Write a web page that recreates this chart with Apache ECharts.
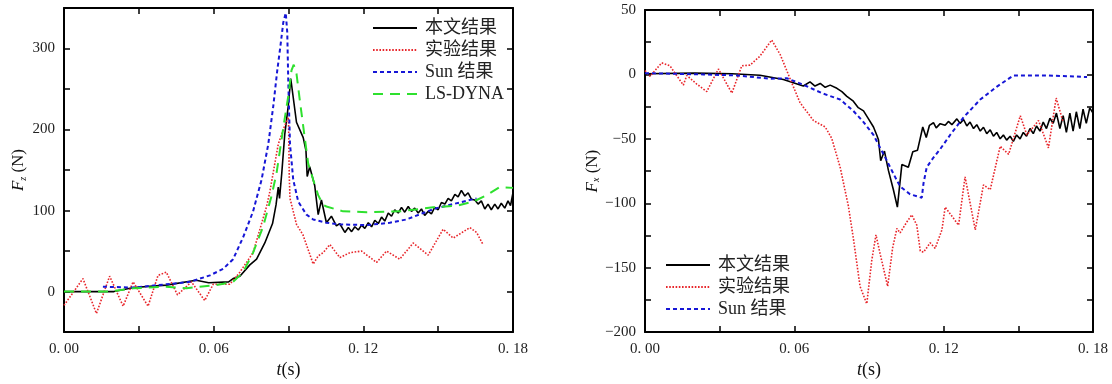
<!DOCTYPE html>
<html><head><meta charset="utf-8">
<script src="https://cdn.jsdelivr.net/npm/echarts@6/dist/echarts.min.js"></script>
<style>html,body{margin:0;padding:0;background:#fff}#c{width:1112px;height:384px}</style>
</head><body><div id="c"></div>
<script>
// ---- data: [t (s), force (N)] ----
const seriesNamesL = ['本文结果', '实验结果', 'Sun 结果', 'LS-DYNA'];
const seriesNamesR = ['本文结果', '实验结果', 'Sun 结果'];

const fzOurs = [[0,0],[0.01,0],[0.02,0],[0.028,5],[0.041,8],[0.053,14],[0.058,11],[0.066,12],[0.0678,16],[0.0705,19],[0.0745,33],[0.0772,40],[0.0805,60],[0.0836,84],[0.085,107],[0.0859,129],[0.0864,115],[0.0873,146],[0.0885,194],[0.0899,229],[0.0909,263],[0.0932,209],[0.0959,190],[0.097,174],[0.0975,142],[0.0985,154],[0.1005,131],[0.1019,95],[0.1032,113],[0.1052,85],[0.1072,93],[0.1092,81],[0.1105,84],[0.1126,73],[0.114,79],[0.1153,74],[0.1166,80],[0.118,76],[0.1193,82],[0.1206,78],[0.122,85],[0.1233,80],[0.1246,88],[0.126,84],[0.1273,92],[0.1286,87],[0.13,97],[0.1313,93],[0.1326,101],[0.134,97],[0.1353,104],[0.1366,98],[0.138,105],[0.1393,99],[0.1406,103],[0.142,97],[0.1433,102],[0.1446,94],[0.146,99],[0.1473,96],[0.1486,104],[0.15,101],[0.1513,110],[0.1527,108],[0.154,115],[0.1553,112],[0.1567,120],[0.158,117],[0.1593,125],[0.1607,118],[0.162,122],[0.1633,114],[0.1647,113],[0.166,108],[0.1673,112],[0.1687,102],[0.17,108],[0.1713,101],[0.1727,108],[0.174,102],[0.1753,109],[0.1767,103],[0.178,112],[0.179,106],[0.18,122]];
const fzExp = [[0,-17],[0.0076,16],[0.013,-27],[0.0183,19],[0.0237,-18],[0.0277,12],[0.0337,-18],[0.0377,20],[0.041,24],[0.0455,-4],[0.0511,12],[0.0564,-11],[0.0598,9],[0.0665,9],[0.0705,24],[0.0758,48],[0.0812,105],[0.0825,123],[0.0859,182],[0.0885,205],[0.09,215],[0.0903,143],[0.0906,115],[0.0932,83],[0.0958,70],[0.0999,34],[0.1019,44],[0.1039,48],[0.1066,58],[0.1106,42],[0.1146,48],[0.1193,50],[0.1253,36],[0.1293,50],[0.1346,40],[0.14,60],[0.146,45],[0.152,77],[0.156,66],[0.1627,79],[0.1654,73],[0.168,58]];
const fzSun = [[0.0156,6],[0.028,5],[0.041,9],[0.0505,12],[0.0585,20],[0.0638,28],[0.0678,40],[0.0718,67],[0.0758,99],[0.0792,138],[0.0819,182],[0.0839,229],[0.0855,273],[0.0868,304],[0.0879,332],[0.0889,344],[0.0895,320],[0.0899,261],[0.0906,182],[0.0919,138],[0.0939,111],[0.0972,95],[0.0999,89],[0.1052,85],[0.1106,83],[0.1213,82],[0.1306,85],[0.1373,89],[0.144,97],[0.1493,103],[0.156,108],[0.1614,112],[0.1654,115]];
const fzDyna = [[0,0],[0.0183,0],[0.0277,4],[0.041,6],[0.0491,4],[0.0544,6],[0.0611,8],[0.0678,12],[0.0718,24],[0.0758,48],[0.0798,80],[0.0832,118],[0.0852,146],[0.0879,202],[0.0899,241],[0.0912,273],[0.0921,280],[0.0932,269],[0.0945,237],[0.0965,190],[0.0979,158],[0.0999,138],[0.1019,119],[0.1039,107],[0.1052,105],[0.1119,99],[0.1213,98],[0.1346,99],[0.148,104],[0.1574,106],[0.1641,111],[0.1694,119],[0.1747,129],[0.18,128]];

const fxOurs = [[0,0.5],[0.02,1],[0.035,0.5],[0.0462,-0.7],[0.0556,-4],[0.0636,-9],[0.0663,-5.8],[0.0683,-9],[0.0704,-7],[0.0724,-10],[0.0744,-8.3],[0.0771,-10.8],[0.0791,-13.3],[0.0811,-17],[0.0837,-20.8],[0.0857,-25.8],[0.0878,-28.3],[0.0898,-34.5],[0.0918,-40.8],[0.0931,-47],[0.0938,-50.7],[0.0947,-67],[0.0962,-59.5],[0.0978,-74.5],[0.0998,-89.5],[0.1014,-103],[0.1032,-70],[0.1058,-72],[0.1076,-60],[0.1095,-58.8],[0.1106,-49.5],[0.1116,-40.8],[0.113,-49],[0.1143,-39.5],[0.1159,-37.5],[0.117,-41.5],[0.1186,-38.2],[0.1206,-39.5],[0.1219,-36.5],[0.1233,-39],[0.1253,-34.5],[0.1266,-38],[0.128,-35],[0.1293,-40],[0.1306,-37],[0.132,-42],[0.1333,-39],[0.1347,-44],[0.136,-41],[0.1373,-46],[0.1387,-43],[0.14,-48],[0.1413,-45],[0.1427,-50],[0.144,-47],[0.1453,-51],[0.1467,-48],[0.148,-52],[0.1493,-47],[0.1507,-50],[0.152,-45],[0.1533,-48],[0.1547,-42],[0.156,-46],[0.1573,-40],[0.1587,-44],[0.16,-37],[0.1613,-42],[0.1627,-34],[0.164,-38],[0.1653,-30],[0.1667,-42],[0.168,-32],[0.1693,-45],[0.1707,-30],[0.172,-44],[0.1733,-29],[0.1747,-42],[0.176,-27],[0.1773,-38],[0.1787,-26],[0.18,-30]];
const fxExp = [[0,3],[0.002,-1.5],[0.0067,9],[0.01,6.7],[0.0154,-8.3],[0.0168,-0.8],[0.0208,-7.5],[0.0248,-13.3],[0.0295,4.2],[0.0349,-14.5],[0.0389,6.7],[0.0422,7.2],[0.0462,14.2],[0.0509,26.7],[0.0543,15.5],[0.0596,-9.5],[0.0623,-22],[0.0677,-35.8],[0.0724,-40.8],[0.075,-49.5],[0.0784,-72],[0.0817,-102],[0.0837,-127],[0.0864,-164.5],[0.0891,-178],[0.0911,-144.5],[0.0928,-124.5],[0.0945,-139.5],[0.0975,-164.5],[0.0995,-134.5],[0.1012,-119.5],[0.1025,-123],[0.1052,-114.5],[0.1072,-109],[0.1092,-117],[0.1106,-137],[0.1119,-138],[0.1146,-130.7],[0.1166,-135],[0.1193,-120.7],[0.1206,-103],[0.126,-117],[0.1286,-79.5],[0.1327,-120.7],[0.136,-85.7],[0.1387,-89.5],[0.1427,-55.8],[0.1461,-62],[0.1508,-32],[0.1534,-47],[0.1581,-35.8],[0.1621,-57],[0.1652,-18.3],[0.168,-37]];
const fxSun = [[0,1],[0.0234,0],[0.0369,-0.8],[0.0503,-3.3],[0.057,-3],[0.0636,-8],[0.0717,-15],[0.0784,-19.5],[0.0837,-28.3],[0.0878,-37],[0.0918,-47],[0.0945,-57],[0.0972,-67],[0.0998,-77],[0.1025,-87],[0.1065,-93],[0.1112,-95.7],[0.1119,-84.5],[0.1132,-72],[0.1159,-64.5],[0.1186,-58],[0.1226,-47],[0.128,-33.3],[0.1347,-19.5],[0.1414,-9.5],[0.148,-0.8],[0.1615,-0.8],[0.1776,-2]];

// ---- styling ----
const SERIF = "'Liberation Serif','Noto Sans CJK SC',serif";
const LABEL_COLOR = '#222';
const styles = [
  {color:'#000000', width:1.6, type:'solid'},
  {color:'#e8262b', width:1.6, type:[1.6,1.6]},
  {color:'#1616d6', width:2, type:[4,3]},
  {color:'#2ee02e', width:2, type:[10,7]}
];
function mk(name, data, s, xi, yi){
  return {name, type:'line', data, xAxisIndex:xi, yAxisIndex:yi, symbol:'none', showSymbol:false,
    lineStyle:{color:s.color,width:s.width,type:s.type}, itemStyle:{color:s.color}, z: 2, animation:false};
}
function fmtT(v){
  const k = Math.round(v/0.03);
  if (k % 2) return '';
  return v.toFixed(2).replace('.', '. ');
}
function xAx(grid, pos, show){
  return {type:'value', gridIndex:grid, position:pos, min:0, max:0.18, interval:0.03,
    axisLine:{show:true, onZero:false, lineStyle:{color:'#000', width:2}},
    axisTick:{show:true, inside:true, length:6, lineStyle:{color:'#000', width:1.5}},
    axisLabel:{show:show, formatter:fmtT, color:LABEL_COLOR, fontFamily:SERIF, fontSize:15, margin:9},
    splitLine:{show:false},
    name: show ? '{i|t}(s)' : '', nameLocation:'middle', nameGap:21,
    nameTextStyle:{color:'#111', fontFamily:SERIF, fontSize:18, rich:{i:{fontStyle:'italic', fontFamily:SERIF, fontSize:18, color:'#111'}}}
  };
}
function yAx(grid, pos, show, min, max, iv, lblStep, sub, gap){
  return {type:'value', gridIndex:grid, position:pos, min, max, interval:iv,
    axisLine:{show:true, onZero:false, lineStyle:{color:'#000', width:2}},
    axisTick:{show:true, inside:true, length:6, lineStyle:{color:'#000', width:1.5}},
    axisLabel:{show:show, color:LABEL_COLOR, fontFamily:SERIF, fontSize:15, margin:9,
      formatter: v => (Math.round(v) % lblStep === 0 && (v < max - 1e-9 || max % lblStep === 0)) ? String(Math.round(v)).replace('-', '−') : ''},
    splitLine:{show:false},
    name: show ? '{f|F}{s|' + sub + '} (N)' : '', nameLocation:'middle', nameGap:gap, nameRotate:90,
    nameTextStyle:{color:'#111', fontFamily:SERIF, fontSize:17,
      rich:{f:{fontStyle:'italic', fontFamily:SERIF, fontSize:17, color:'#111'},
            s:{fontStyle:'italic', fontFamily:SERIF, fontSize:10, color:'#111', verticalAlign:'bottom', padding:[8,0,0,0]}}}
  };
}
function lg(names, left, top){
  return {data:names, orient:'vertical', left:left, top:top, itemWidth:44, itemHeight:14, itemGap:4,
    itemStyle:{opacity:0},
    textStyle:{color:'#222', fontFamily:SERIF, fontSize:18, padding:[0,0,0,3]}, selectedMode:false, padding:0};
}

const chart = echarts.init(document.getElementById('c'), null, {renderer:'canvas'});
chart.setOption({
  animation:false,
  backgroundColor:'#fff',
  grid:[
    {left:64, right:599, top:8, bottom:38, containLabel:false},
    {left:645, right:19, top:10, bottom:41, containLabel:false}
  ],
  xAxis:[ xAx(0,'bottom',true), xAx(0,'top',false), xAx(1,'bottom',true), xAx(1,'top',false) ],
  yAxis:[
    yAx(0,'left',true,-50,350,50,100,'z',36),
    yAx(0,'right',false,-50,350,50,100,'z',36),
    yAx(1,'left',true,-200,50,25,50,'x',40),
    yAx(1,'right',false,-200,50,25,50,'x',40)
  ],
  legend:[ lg(seriesNamesL, 372, 19), lg(seriesNamesR, 665, 256) ],
  series:[
    mk(seriesNamesL[0], fzOurs, styles[0], 0, 0),
    mk(seriesNamesL[1], fzExp, styles[1], 0, 0),
    mk(seriesNamesL[2], fzSun, styles[2], 0, 0),
    mk(seriesNamesL[3], fzDyna, styles[3], 0, 0),
    mk(seriesNamesR[0], fxOurs, styles[0], 2, 2),
    mk(seriesNamesR[1], fxExp, styles[1], 2, 2),
    mk(seriesNamesR[2], fxSun, styles[2], 2, 2)
  ]
});
</script></body></html>
